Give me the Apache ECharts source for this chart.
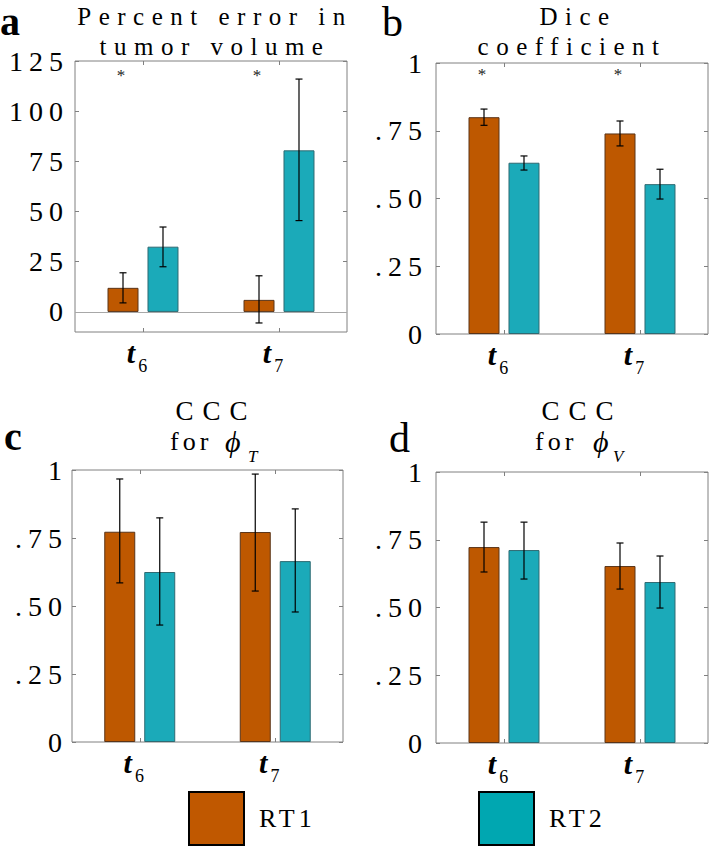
<!DOCTYPE html>
<html><head><meta charset="utf-8">
<script src="https://cdn.jsdelivr.net/npm/echarts@6/dist/echarts.min.js"></script>
<style>
html,body{margin:0;padding:0;background:#fff;}
#chart{width:709px;height:846px;}
svg text[style*="25px"]{letter-spacing:7.5px;}
svg text[style*="27px"]{letter-spacing:9px;}
svg text[style*="28px"]{letter-spacing:6px;}
svg text[style*="26px"]{letter-spacing:4px;}
</style></head><body><div id="chart"></div>
<script>
// ---------- data ----------
const categories = ['t6', 't7'];
const catSub = ['6', '7'];
const seriesNames = ['RT1', 'RT2'];

// (a) percent error in tumor volume
const volRT1 = [12, 6];
const volRT1Lo = [4.5, -5.5];
const volRT1Hi = [19.5, 18];
const volRT2 = [32.5, 80.5];
const volRT2Lo = [22.5, 45.5];
const volRT2Hi = [42.3, 116];
const volStars = [118, 118];

// (b) Dice coefficient
const diceRT1 = [0.80, 0.74];
const diceRT1Lo = [0.77, 0.694];
const diceRT1Hi = [0.83, 0.786];
const diceRT2 = [0.632, 0.553];
const diceRT2Lo = [0.605, 0.498];
const diceRT2Hi = [0.657, 0.608];
const diceStars = [0.957, 0.957];

// (c) CCC for phi_T
const cccTRT1 = [0.773, 0.772];
const cccTRT1Lo = [0.585, 0.555];
const cccTRT1Hi = [0.967, 0.985];
const cccTRT2 = [0.625, 0.665];
const cccTRT2Lo = [0.43, 0.478];
const cccTRT2Hi = [0.824, 0.857];

// (d) CCC for phi_V
const cccVRT1 = [0.723, 0.653];
const cccVRT1Lo = [0.631, 0.568];
const cccVRT1Hi = [0.815, 0.738];
const cccVRT2 = [0.712, 0.594];
const cccVRT2Lo = [0.605, 0.498];
const cccVRT2Hi = [0.815, 0.69];

// tick values / labels
const volTicks = [0, 25, 50, 75, 100, 125];
const volTickLabels = ['0', '25', '50', '75', '100', '125'];
const unitTicks = [0, 0.25, 0.5, 0.75, 1];
const unitTickLabels = ['0', '.25', '.50', '.75', '1'];

// ---------- styling / layout ----------
const FONT = 'Liberation Serif';
const colRT1 = '#BE5800', colRT2 = '#1BAAB9';
const borderRT1 = '#5a3418', borderRT2 = '#2f6a72';
const axisGray = '#808080';

const panels = [
  { v: [volRT1, volRT2], lo: [volRT1Lo, volRT2Lo], hi: [volRT1Hi, volRT2Hi], min: -10, max: 125, ticks: volTicks, labels: volTickLabels, stars: volStars, zero: true },
  { v: [diceRT1, diceRT2], lo: [diceRT1Lo, diceRT2Lo], hi: [diceRT1Hi, diceRT2Hi], min: 0, max: 1, ticks: unitTicks, labels: unitTickLabels, stars: diceStars },
  { v: [cccTRT1, cccTRT2], lo: [cccTRT1Lo, cccTRT2Lo], hi: [cccTRT1Hi, cccTRT2Hi], min: 0, max: 1, ticks: unitTicks, labels: unitTickLabels },
  { v: [cccVRT1, cccVRT2], lo: [cccVRT1Lo, cccVRT2Lo], hi: [cccVRT1Hi, cccVRT2Hi], min: 0, max: 1, ticks: unitTicks, labels: unitTickLabels }
];
const layouts = [
  { left: 75, top: 61, width: 272, height: 271, yMargin: 6 },
  { left: 436, top: 63, width: 272, height: 271, yMargin: 8 },
  { left: 72, top: 470, width: 271, height: 272, yMargin: 4 },
  { left: 436, top: 472, width: 272, height: 271, yMargin: 8 }
];
const BAR_W = 31, BAR_GAP = '29%';

const grid = [], xAxis = [], yAxis = [], series = [];

panels.forEach((p, i) => {
  const L = layouts[i];
  grid.push({ left: L.left, top: L.top, width: L.width, height: L.height, show: true, borderColor: axisGray, borderWidth: 1, backgroundColor: 'transparent', containLabel: false });
  const tickStyle = { show: true, inside: true, length: 4, lineStyle: { color: axisGray, width: 1 } };
  xAxis.push({
    type: 'category', gridIndex: i, data: categories, position: 'bottom',
    axisLine: { show: false, onZero: false },
    axisTick: Object.assign({ alignWithLabel: true }, tickStyle),
    splitLine: { show: false },
    axisLabel: {
      margin: 5,
      formatter: (val, idx) => '{t|t}{s|' + catSub[idx] + '}',
      rich: {
        t: { fontFamily: FONT, fontSize: 30, fontStyle: 'italic', fontWeight: 'bold', lineHeight: 30, verticalAlign: 'top', color: '#000' },
        s: { fontFamily: FONT, fontSize: 18, lineHeight: 18, padding: [20, 12, 0, 3], verticalAlign: 'top', color: '#000' }
      }
    }
  });
  xAxis.push({
    type: 'category', gridIndex: i, data: categories, position: 'top',
    axisLine: { show: false, onZero: false },
    axisTick: Object.assign({ alignWithLabel: true }, tickStyle),
    axisLabel: { show: false }, splitLine: { show: false }
  });
  const fmt = (v) => {
    const k = p.ticks.findIndex(t => Math.abs(t - v) < 1e-9);
    return k >= 0 ? p.labels[k] : '';
  };
  yAxis.push({
    type: 'value', gridIndex: i, min: p.min, max: p.max, position: 'left',
    axisLine: { show: false },
    axisTick: Object.assign({ customValues: p.ticks }, tickStyle),
    splitLine: { show: false },
    axisLabel: { customValues: p.ticks, formatter: fmt, margin: L.yMargin, fontFamily: FONT, fontSize: 28, color: '#000' }
  });
  yAxis.push({
    type: 'value', gridIndex: i, min: p.min, max: p.max, position: 'right',
    axisLine: { show: false },
    axisTick: Object.assign({ customValues: p.ticks }, tickStyle),
    splitLine: { show: false },
    axisLabel: { show: false }
  });

  // bars
  [0, 1].forEach(k => {
    const s = {
      type: 'bar', name: seriesNames[k], xAxisIndex: 2 * i, yAxisIndex: 2 * i,
      data: p.v[k], barWidth: BAR_W, barGap: BAR_GAP,
      itemStyle: { color: k === 0 ? colRT1 : colRT2, borderColor: k === 0 ? borderRT1 : borderRT2, borderWidth: 1 },
      silent: true, z: 2
    };
    if (k === 0 && p.zero) {
      s.markLine = { silent: true, symbol: ['none', 'none'], label: { show: false }, lineStyle: { color: '#a8a8a8', width: 1, type: 'solid' }, data: [{ yAxis: 0 }], z: 1 };
    }
    series.push(s);
  });

  // error bars
  const errData = [];
  [0, 1].forEach(k => categories.forEach((c, ci) => errData.push([ci, p.lo[k][ci], p.hi[k][ci], k])));
  series.push({
    type: 'custom', xAxisIndex: 2 * i, yAxisIndex: 2 * i, silent: true, z: 5,
    itemStyle: { color: '#000' },
    data: errData,
    renderItem: (params, api) => {
      const ci = api.value(0), lo = api.value(1), hi = api.value(2), k = api.value(3);
      const lay = api.barLayout({ count: 2, barWidth: BAR_W, barGap: BAR_GAP });
      const x = api.coord([ci, 0])[0] + lay[k].offsetCenter;
      const yHi = api.coord([ci, hi])[1];
      const yLo = api.coord([ci, lo])[1];
      const cap = 3.5;
      const st = { stroke: '#000', lineWidth: 1.2 };
      return {
        type: 'group', children: [
          { type: 'line', shape: { x1: x, y1: yHi, x2: x, y2: yLo }, style: st },
          { type: 'line', shape: { x1: x - cap, y1: yHi, x2: x + cap, y2: yHi }, style: st },
          { type: 'line', shape: { x1: x - cap, y1: yLo, x2: x + cap, y2: yLo }, style: st }
        ]
      };
    }
  });

  // significance stars
  if (p.stars) {
    series.push({
      type: 'custom', xAxisIndex: 2 * i, yAxisIndex: 2 * i, silent: true, z: 6,
      itemStyle: { color: '#222' },
      data: p.stars.map((y, ci) => [ci, y]),
      renderItem: (params, api) => {
        const ci = api.value(0);
        const lay = api.barLayout({ count: 2, barWidth: BAR_W, barGap: BAR_GAP });
        const pt = api.coord([ci, api.value(1)]);
        return {
          type: 'text', x: pt[0] + lay[0].offsetCenter - 2, y: pt[1],
          style: { text: '*', fontFamily: FONT, fontSize: 17, fill: '#222', align: 'center', verticalAlign: 'middle', textAlign: 'center', textVerticalAlign: 'middle' }
        };
      }
    });
  }
});

function txt(text, x, y, size, opts) {
  opts = opts || {};
  return {
    type: 'text', x: x, y: y, silent: true,
    style: Object.assign({
      text: text, fontFamily: FONT, fontSize: size, fill: '#000',
      align: opts.align || 'center', textAlign: opts.align || 'center',
      verticalAlign: 'middle', textVerticalAlign: 'middle'
    }, opts.style || {})
  };
}

const graphic = [
  // panel letters
  txt('a', 0, 21, 40, { align: 'left', style: { fontWeight: 'bold' } }),
  txt('b', 382, 21.5, 42, { align: 'left' }),
  txt('c', 4, 436.5, 40, { align: 'left', style: { fontWeight: 'bold' } }),
  txt('d', 389, 437.5, 42, { align: 'left' }),
  // titles
  txt('Percent error in', 215, 16.5, 25),
  txt('tumor volume', 215, 46.5, 25),
  txt('Dice', 578, 16.5, 25),
  txt('coefficient', 572, 46.5, 25),
  txt('CCC', 216, 411, 27),
  txt('for', 170, 441, 26, { align: 'left' }),
  txt('\u03D5', 225, 441, 30, { align: 'left', style: { fontStyle: 'italic' } }),
  txt('T', 248, 456, 17, { align: 'left', style: { fontStyle: 'italic' } }),
  txt('CCC', 582, 411, 27),
  txt('for', 535, 441, 26, { align: 'left' }),
  txt('\u03D5', 593, 441, 30, { align: 'left', style: { fontStyle: 'italic' } }),
  txt('V', 613, 456, 17, { align: 'left', style: { fontStyle: 'italic' } })
];

const legendBase = {
  top: 791, itemWidth: 55, itemHeight: 53, padding: 0, selectedMode: false,
  textStyle: { fontFamily: FONT, fontSize: 26, color: '#000', padding: [0, 0, 0, 10] }
};
const legend = [
  Object.assign({}, legendBase, { left: 188, data: [{ name: seriesNames[0], icon: 'rect', itemStyle: { color: '#C05800', borderColor: '#000', borderWidth: 2 } }] }),
  Object.assign({}, legendBase, { left: 478, data: [{ name: seriesNames[1], icon: 'rect', itemStyle: { color: '#00A7B1', borderColor: '#000', borderWidth: 2 } }] })
];

const chart = echarts.init(document.getElementById('chart'), null, { renderer: 'svg' });
chart.setOption({
  backgroundColor: '#fff',
  animation: false,
  textStyle: { fontFamily: FONT },
  grid, xAxis, yAxis, series, legend, graphic
});
</script></body></html>
